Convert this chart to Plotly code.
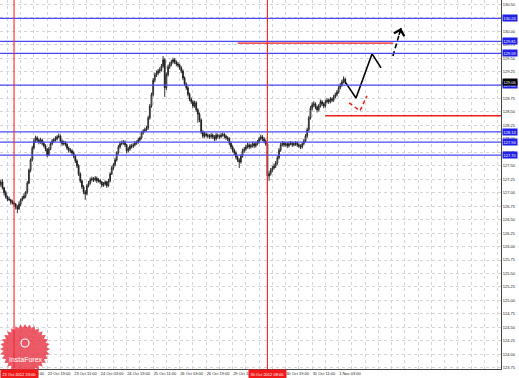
import math
import plotly.graph_objects as go

# ---------------- data (USD/JPY H1) ----------------
opens = [127.15, 127.20, 127.09, 127.00, 126.92, 126.88, 126.87, 126.83, 126.81, 126.79,
         126.74, 126.70, 126.79, 126.87, 126.90, 126.94, 127.01, 127.18, 127.42, 127.61,
         127.83, 127.96, 128.02, 127.98, 127.94, 127.98, 127.92, 127.87, 127.81, 127.70,
         127.81, 127.91, 127.96, 127.98, 128.00, 128.04, 128.05, 127.96, 127.91, 127.93,
         127.90, 127.83, 127.79, 127.78, 127.74, 127.68, 127.59, 127.50, 127.35, 127.22,
         127.11, 127.01, 126.98, 127.13, 127.18, 127.24, 127.26, 127.24, 127.27, 127.22,
         127.23, 127.20, 127.14, 127.16, 127.20, 127.13, 127.22, 127.35, 127.46, 127.52,
         127.61, 127.74, 127.85, 127.91, 127.92, 127.94, 127.89, 127.78, 127.81, 127.87,
         127.86, 127.89, 127.92, 127.94, 127.98, 128.02, 128.11, 128.15, 128.17, 128.20,
         128.39, 128.61, 128.82, 129.09, 129.19, 129.22, 129.26, 129.28, 129.35, 129.47,
         128.95, 129.19, 129.34, 129.39, 129.43, 129.47, 129.43, 129.39, 129.37, 129.32,
         129.26, 129.13, 129.02, 128.95, 128.83, 128.74, 128.69, 128.61, 128.67, 128.54,
         128.46, 128.35, 128.13, 128.05, 128.09, 128.07, 128.05, 128.04, 128.07, 128.04,
         128.00, 128.07, 128.05, 128.04, 128.07, 128.08, 128.05, 128.02, 128.00, 127.92,
         127.85, 127.79, 127.74, 127.66, 127.61, 127.57, 127.68, 127.78, 127.81, 127.85,
         127.89, 127.85, 127.87, 127.91, 127.87, 127.91, 127.94, 128.00, 128.04, 128.00,
         127.96, 127.91, 127.31, 127.35, 127.42, 127.46, 127.50, 127.55, 127.65, 127.79,
         127.89, 127.92, 127.89, 127.91, 127.87, 127.91, 127.92, 127.89, 127.91, 127.92,
         127.89, 127.87, 127.85, 127.91, 127.96, 128.05, 128.17, 128.39, 128.57, 128.63,
         128.65, 128.59, 128.54, 128.61, 128.69, 128.65, 128.61, 128.69, 128.72, 128.69,
         128.74, 128.72, 128.78, 128.82, 128.87, 128.95, 129.00, 129.06, 129.11]

highs = [127.24, 127.25, 127.11, 127.04, 126.95, 126.93, 126.89, 126.87, 126.84, 126.81,
         126.77, 126.84, 126.89, 126.94, 126.99, 127.03, 127.22, 127.45, 127.64, 127.87,
         128.01, 128.06, 128.05, 128.01, 128.02, 128.00, 127.95, 127.90, 127.83, 127.85,
         127.94, 128.00, 128.02, 128.05, 128.07, 128.10, 128.08, 127.99, 127.97, 127.96,
         127.92, 127.86, 127.83, 127.81, 127.77, 127.71, 127.62, 127.53, 127.38, 127.25,
         127.14, 127.05, 127.16, 127.22, 127.28, 127.30, 127.29, 127.31, 127.30, 127.27,
         127.26, 127.22, 127.20, 127.23, 127.22, 127.26, 127.38, 127.50, 127.55, 127.65,
         127.77, 127.89, 127.95, 127.97, 127.98, 127.97, 127.91, 127.85, 127.90, 127.91,
         127.92, 127.96, 127.97, 128.02, 128.05, 128.15, 128.18, 128.21, 128.24, 128.43,
         128.65, 128.86, 129.13, 129.23, 129.27, 129.30, 129.33, 129.39, 129.54, 129.50,
         129.23, 129.38, 129.43, 129.47, 129.51, 129.50, 129.46, 129.43, 129.40, 129.35,
         129.29, 129.16, 129.05, 128.98, 128.86, 128.77, 128.72, 128.71, 128.70, 128.57,
         128.49, 128.38, 128.16, 128.13, 128.12, 128.10, 128.09, 128.11, 128.10, 128.07,
         128.11, 128.10, 128.08, 128.11, 128.12, 128.11, 128.08, 128.05, 128.03, 127.95,
         127.88, 127.82, 127.77, 127.69, 127.64, 127.72, 127.82, 127.85, 127.89, 127.93,
         127.92, 127.91, 127.95, 127.94, 127.95, 127.98, 128.04, 128.08, 128.07, 128.03,
         127.99, 127.94, 127.40, 127.46, 127.50, 127.54, 127.59, 127.69, 127.83, 127.93,
         127.96, 127.95, 127.94, 127.94, 127.95, 127.96, 127.95, 127.94, 127.96, 127.95,
         127.92, 127.90, 127.94, 128.00, 128.09, 128.21, 128.43, 128.61, 128.68, 128.70,
         128.68, 128.62, 128.65, 128.73, 128.72, 128.68, 128.73, 128.76, 128.75, 128.78,
         128.77, 128.82, 128.86, 128.91, 128.99, 129.04, 129.10, 129.16, 129.14]

lows = [127.11, 127.06, 126.95, 126.89, 126.84, 126.85, 126.78, 126.78, 126.75, 126.69,
        126.62, 126.68, 126.75, 126.84, 126.88, 126.90, 126.98, 127.16, 127.38, 127.58,
        127.80, 127.93, 127.94, 127.90, 127.91, 127.88, 127.84, 127.77, 127.66, 127.68,
        127.79, 127.88, 127.93, 127.95, 127.97, 128.01, 127.92, 127.87, 127.88, 127.86,
        127.79, 127.75, 127.74, 127.70, 127.64, 127.55, 127.46, 127.31, 127.18, 127.07,
        126.97, 126.87, 126.95, 127.10, 127.15, 127.21, 127.20, 127.21, 127.18, 127.19,
        127.16, 127.10, 127.11, 127.13, 127.09, 127.11, 127.19, 127.33, 127.42, 127.49,
        127.58, 127.71, 127.82, 127.88, 127.89, 127.85, 127.73, 127.75, 127.78, 127.82,
        127.83, 127.86, 127.89, 127.91, 127.95, 127.99, 128.08, 128.12, 128.14, 128.17,
        128.36, 128.58, 128.79, 129.05, 129.15, 129.18, 129.22, 129.25, 129.32, 128.78,
        128.91, 129.16, 129.30, 129.35, 129.40, 129.39, 129.35, 129.33, 129.28, 129.22,
        129.09, 128.98, 128.91, 128.79, 128.70, 128.65, 128.57, 128.58, 128.50, 128.30,
        128.31, 128.09, 128.01, 128.02, 128.03, 128.01, 128.00, 128.01, 128.00, 127.96,
        127.97, 128.01, 128.00, 128.01, 128.04, 128.01, 127.98, 127.96, 127.88, 127.81,
        127.75, 127.70, 127.62, 127.57, 127.46, 127.54, 127.65, 127.74, 127.78, 127.82,
        127.81, 127.82, 127.84, 127.83, 127.84, 127.88, 127.91, 127.97, 127.96, 127.92,
        127.87, 126.96, 127.22, 127.32, 127.38, 127.43, 127.46, 127.52, 127.62, 127.76,
        127.86, 127.85, 127.86, 127.83, 127.84, 127.88, 127.85, 127.86, 127.87, 127.85,
        127.83, 127.81, 127.82, 127.88, 127.93, 128.02, 128.14, 128.36, 128.53, 128.59,
        128.55, 128.49, 128.51, 128.58, 128.61, 128.57, 128.58, 128.66, 128.65, 128.66,
        128.68, 128.69, 128.75, 128.79, 128.84, 128.92, 128.97, 129.03, 129.02]

closes = [127.20, 127.09, 127.00, 126.92, 126.88, 126.87, 126.83, 126.81, 126.79, 126.74,
          126.70, 126.79, 126.87, 126.90, 126.94, 127.01, 127.18, 127.42, 127.61, 127.83,
          127.96, 128.02, 127.98, 127.94, 127.98, 127.92, 127.87, 127.81, 127.70, 127.81,
          127.91, 127.96, 127.98, 128.00, 128.04, 128.05, 127.96, 127.91, 127.93, 127.90,
          127.83, 127.79, 127.78, 127.74, 127.68, 127.59, 127.50, 127.35, 127.22, 127.11,
          127.01, 126.98, 127.13, 127.18, 127.24, 127.26, 127.24, 127.27, 127.22, 127.23,
          127.20, 127.14, 127.16, 127.20, 127.13, 127.22, 127.35, 127.46, 127.52, 127.61,
          127.74, 127.85, 127.91, 127.92, 127.94, 127.89, 127.78, 127.81, 127.87, 127.86,
          127.89, 127.92, 127.94, 127.98, 128.02, 128.11, 128.15, 128.17, 128.20, 128.39,
          128.61, 128.82, 129.09, 129.19, 129.22, 129.26, 129.28, 129.35, 129.47, 128.95,
          129.19, 129.34, 129.39, 129.43, 129.47, 129.43, 129.39, 129.37, 129.32, 129.26,
          129.13, 129.02, 128.95, 128.83, 128.74, 128.69, 128.61, 128.67, 128.54, 128.46,
          128.35, 128.13, 128.05, 128.09, 128.07, 128.05, 128.04, 128.07, 128.04, 128.00,
          128.07, 128.05, 128.04, 128.07, 128.08, 128.05, 128.02, 128.00, 127.92, 127.85,
          127.79, 127.74, 127.66, 127.61, 127.57, 127.68, 127.78, 127.81, 127.85, 127.89,
          127.85, 127.87, 127.91, 127.87, 127.91, 127.94, 128.00, 128.04, 128.00, 127.96,
          127.91, 127.31, 127.35, 127.42, 127.46, 127.50, 127.55, 127.65, 127.79, 127.89,
          127.92, 127.89, 127.91, 127.87, 127.91, 127.92, 127.89, 127.91, 127.92, 127.89,
          127.87, 127.85, 127.91, 127.96, 128.05, 128.17, 128.39, 128.57, 128.63, 128.65,
          128.59, 128.54, 128.61, 128.69, 128.65, 128.61, 128.69, 128.72, 128.69, 128.74,
          128.72, 128.78, 128.82, 128.87, 128.95, 129.00, 129.06, 129.11, 129.06]

bar_index = list(range(len(closes)))

x_tick_pos = [12, 28, 44, 60, 76, 92, 108, 124, 140, 172, 188, 204]
x_tick_text = ["22 Oct 03:00", "22 Oct 19:00", "23 Oct 11:00", "24 Oct 03:00",
               "24 Oct 19:00", "25 Oct 11:00", "26 Oct 03:00", "26 Oct 19:00",
               "29 Oct 11:00", "30 Oct 19:00", "31 Oct 11:00", "1 Nov 03:00"]

blue_levels = [130.24, 129.81, 129.59, 129.00, 128.13, 127.94, 127.70]
red_levels = [129.78, 128.43]
red_level_start = [143, 196]
red_level_end = [237, None]   # None -> to the right edge
bid_price = 129.06

vline_pos = [8, 161]
vline_text = ["21 Oct 2012 23:00", "30 Oct 2012 08:00"]

solid_arrow_x = [207.9, 214.5, 224.2, 229.6]
solid_arrow_y = [129.06, 128.76, 129.58, 129.32]
dash_arrow_x = [236.8, 241.7]
dash_arrow_y = [129.54, 130.06]
red_arrow_x = [210.3, 216.9, 221.1]
red_arrow_y = [128.67, 128.52, 128.80]

X_RANGE = [-0.48, 302.05]
Y_RANGE = [123.726, 130.58]

FONT = "Liberation Sans, Arial, sans-serif"
GRID = "#d6d6d6"
BLUE = "#4848f4"
RED = "#ee1c1c"

fig = go.Figure()

fig.add_trace(go.Candlestick(
    x=bar_index, open=opens, high=highs, low=lows, close=closes,
    increasing=dict(line=dict(color="#1a1a1a", width=0.9), fillcolor="#ffffff"),
    decreasing=dict(line=dict(color="#1a1a1a", width=0.9), fillcolor="#1a1a1a"),
    whiskerwidth=0, showlegend=False, hoverinfo="skip",
))

# drawn arrows
fig.add_trace(go.Scatter(x=solid_arrow_x, y=solid_arrow_y, mode="lines",
                         line=dict(color="#000000", width=1.6), showlegend=False, hoverinfo="skip"))
fig.add_trace(go.Scatter(x=dash_arrow_x, y=dash_arrow_y, mode="lines",
                         line=dict(color="#000000", width=1.6, dash="5px,3px"), showlegend=False, hoverinfo="skip"))
fig.add_trace(go.Scatter(x=red_arrow_x, y=red_arrow_y, mode="lines",
                         line=dict(color=RED, width=1.5, dash="4px,3px"), showlegend=False, hoverinfo="skip"))


def head(xs, ys, color):
    tx, ty = xs[-1], ys[-1]
    px, py = xs[-2], ys[-2]
    return dict(x=tx, y=ty, ax=tx - 0.3 * (tx - px), ay=ty - 0.3 * (ty - py),
                xref="x", yref="y", axref="x", ayref="y", text="", showarrow=True,
                arrowhead=4, arrowsize=1.3, arrowwidth=1.6, arrowcolor=color, standoff=0)


annotations = [head(solid_arrow_x, solid_arrow_y, "#000000"),
               head(dash_arrow_x, dash_arrow_y, "#000000"),
               head(red_arrow_x, red_arrow_y, RED)]

shapes = []
for lv in blue_levels:
    shapes.append(dict(type="line", xref="paper", yref="y", x0=0, x1=1, y0=lv, y1=lv,
                       line=dict(color=BLUE, width=1.2), layer="above"))
for lv, s, e in zip(red_levels, red_level_start, red_level_end):
    x_end = X_RANGE[1] if e is None else e
    shapes.append(dict(type="line", xref="x", yref="y", x0=s, x1=x_end, y0=lv, y1=lv,
                       line=dict(color=RED, width=1.3), layer="above"))
for v in vline_pos:
    shapes.append(dict(type="line", xref="x", yref="paper", x0=v, x1=v, y0=0, y1=1,
                       line=dict(color="#ff2424", width=1.1), layer="above"))

# InstaForex watermark (starburst seal) in paper coordinates
PW, PH = 501.0, 369.0
cx, cy = 25.0, 349.0
pts = []
for k in range(64):
    ang = k * math.pi / 32
    r = 25.0 if k % 2 == 0 else 21.5
    px = (cx + r * math.cos(ang)) / PW
    py = 1 - (cy + r * math.sin(ang)) / PH
    pts.append(f"{px:.5f},{py:.5f}")
shapes.append(dict(type="path", xref="paper", yref="paper", path="M" + "L".join(pts) + "Z",
                   fillcolor="rgba(232,44,60,0.78)", line=dict(width=0), layer="above"))
shapes.append(dict(type="circle", xref="paper", yref="paper",
                   x0=(cx - 4) / PW, x1=(cx + 4) / PW, y0=1 - 347 / PH, y1=1 - 339 / PH,
                   line=dict(color="white", width=1.2), layer="above"))

annotations.append(dict(xref="paper", yref="paper", x=(cx + 1) / PW, y=1 - 359 / PH,
                        text="InstaForex", showarrow=False, xanchor="center", yanchor="middle",
                        font=dict(family=FONT, size=7, color="white")))

# price labels of horizontal levels on the right scale
for lv in blue_levels:
    annotations.append(dict(xref="paper", yref="y", x=1, y=lv, xanchor="left", yanchor="middle",
                            xshift=1, text=f"{lv:.2f}", showarrow=False, bgcolor="#1f1fe6",
                            borderpad=0.5, font=dict(family=FONT, size=4, color="white")))
annotations.append(dict(xref="paper", yref="y", x=1, y=bid_price, xanchor="left", yanchor="middle",
                        xshift=1, text=f"{bid_price:.2f}", showarrow=False, bgcolor="#000000",
                        borderpad=0.5, font=dict(family=FONT, size=4, color="white")))

# time labels of the vertical lines (the first one is pinned to the left edge)
for n, (v, t) in enumerate(zip(vline_pos, vline_text)):
    if n == 0:
        annotations.append(dict(xref="paper", yref="paper", x=0, y=0, xanchor="left", yanchor="top",
                                text=t, showarrow=False, bgcolor="#f01818", borderpad=1.5,
                                font=dict(family=FONT, size=4, color="white")))
    else:
        annotations.append(dict(xref="x", yref="paper", x=v, y=0, xanchor="center", yanchor="top",
                                text=t, showarrow=False, bgcolor="#f01818", borderpad=1.5,
                                font=dict(family=FONT, size=4, color="white")))

fig.update_layout(
    width=519, height=378,
    margin=dict(l=0, r=18, t=0, b=9),
    paper_bgcolor="white", plot_bgcolor="white",
    showlegend=False,
    shapes=shapes, annotations=annotations,
    xaxis=dict(range=X_RANGE, rangeslider=dict(visible=False), tickmode="array",
               tickvals=x_tick_pos, ticktext=x_tick_text, ticklabelposition="outside right",
               tickangle=0, tickfont=dict(family=FONT, size=4, color="#222222"), ticks="",
               showgrid=True, gridcolor=GRID, griddash="dot", gridwidth=1,
               minor=dict(tickmode="linear", tick0=4, dtick=8, showgrid=True,
                          gridcolor=GRID, griddash="dot", gridwidth=1),
               showline=True, linecolor="#444444", linewidth=1, zeroline=False,
               automargin=False, fixedrange=True),
    yaxis=dict(range=Y_RANGE, side="right", tickmode="linear", tick0=123.75, dtick=0.25,
               tickformat=".2f", tickfont=dict(family=FONT, size=4, color="#222222"), ticks="",
               showgrid=True, gridcolor=GRID, griddash="dot", gridwidth=1,
               showline=True, linecolor="#444444", linewidth=1, zeroline=False,
               automargin=False, fixedrange=True),
)

fig.write_html("out.html")
